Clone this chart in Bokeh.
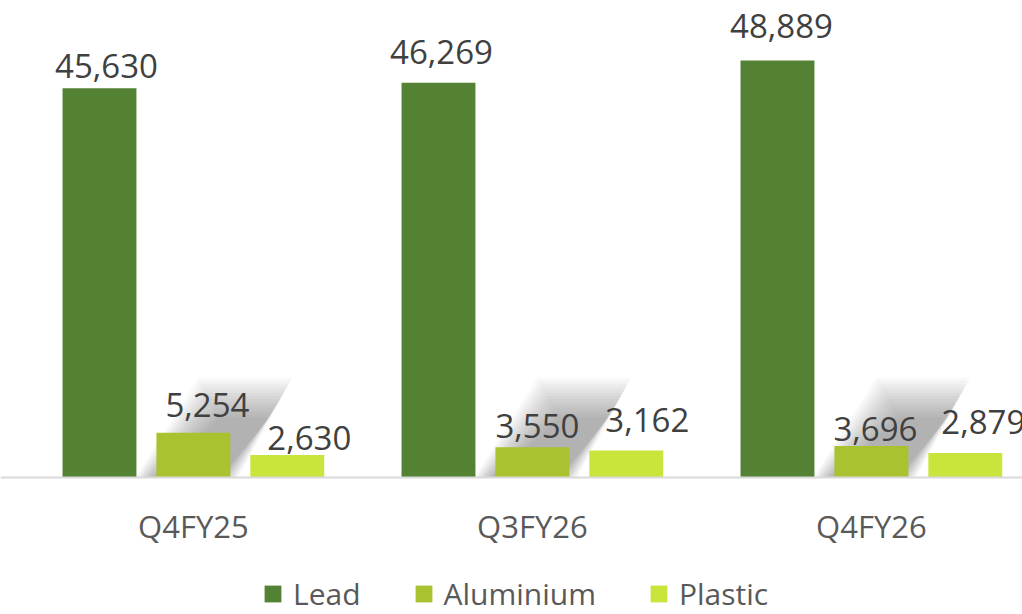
from bokeh.plotting import figure
from bokeh.models import Range1d, ColumnDataSource, Legend, LegendItem, Span
from bokeh.core.properties import value
from bokeh.embed import file_html
from bokeh.resources import INLINE

categories = ["Q4FY25", "Q3FY26", "Q4FY26"]
series_names = ["Lead", "Aluminium", "Plastic"]
lead = [45630, 46269, 48889]
aluminium = [5254, 3550, 3696]
plastic = [2630, 3162, 2879]
colors = ["#548235", "#A9C22F", "#C9E43A"]

# hand-placed data-label nudges of the original (pixels: right, gap above bar)
label_dx = [[7, 3, 4], [14, 5, 4], [22, 21, 18]]
label_gap = [[10, 19, 22], [16, 9, 5], [5, 19, 19]]

FONT = "Open Sans"
W, H = 1022, 614
BASE_PX = 477          # pixel row of the zero line
PX_PER_UNIT = 0.00853
PX_PER_CAT = 339.0
y_max = BASE_PX / PX_PER_UNIT
y_min = -(H - BASE_PX) / PX_PER_UNIT

p = figure(width=W, height=H, output_backend="svg", toolbar_location=None,
           x_range=Range1d(-0.569, -0.569 + W / PX_PER_CAT),
           y_range=Range1d(y_min, y_max),
           x_axis_location=None, y_axis_location=None,
           min_border=0)
p.outline_line_color = None
p.xgrid.visible = False
p.ygrid.visible = False
p.background_fill_color = "white"
p.border_fill_color = "white"

offsets = [-0.277, 0.0, 0.277]
width = 0.218

# soft perspective shadow behind the Aluminium bars (Excel shape effect)
def px_x(n):
    return n / PX_PER_CAT

def px_y(n):
    return n / PX_PER_UNIT

sh_xs, sh_ys = [], []
for i, v in enumerate(aluminium):
    c = i + offsets[1]
    left, right = c - width / 2, c + width / 2
    for k in range(14):
        d = k * 1.4
        bl = left - px_x(21 - d)
        br = right + px_x(8 - d)
        top = px_y(100 - 2.2 * d)
        tl = left + px_x(42 + 1.2 * d)
        tr = right + px_x(62 - 1.2 * d)
        sh_xs.append([bl, br, tr, tl])
        sh_ys.append([0, 0, top, top])
p.patches(xs=sh_xs, ys=sh_ys, fill_color="#000000", fill_alpha=0.022, line_color=None)

renderers = []
for s, (vals, off, col) in enumerate(zip([lead, aluminium, plastic], offsets, colors)):
    xs = [i + off for i in range(len(categories))]
    src = ColumnDataSource(dict(x=xs, top=vals,
                                label=[f"{v:,}" for v in vals],
                                dx=label_dx[s],
                                dy=[-(g + 12) for g in label_gap[s]]))
    r = p.vbar(x="x", top="top", width=width, bottom=0, source=src,
               fill_color=col, line_color=None)
    renderers.append(r)
    p.text(x="x", y="top", text="label", source=src, text_align="center",
           text_baseline="alphabetic", x_offset="dx", y_offset="dy",
           text_font=value(FONT), text_font_size="33px", text_color="#404040")

# zero / category axis line
p.add_layout(Span(location=0, dimension="width", line_color="#D9D9D9", line_width=2))

# category labels
cat_src = ColumnDataSource(dict(x=list(range(len(categories))), y=[0] * len(categories),
                                text=categories))
p.text(x="x", y="y", text="text", source=cat_src, text_align="center",
       text_baseline="alphabetic", y_offset=48,
       text_font=value(FONT), text_font_size="31px", text_color="#595959")

legend = Legend(items=[LegendItem(label=n, renderers=[r]) for n, r in zip(series_names, renderers)],
                orientation="horizontal", location=(262, 0),
                label_text_font=FONT, label_text_font_size="30px",
                label_text_color="#595959",
                glyph_width=21, glyph_height=21, spacing=52,
                border_line_color=None, background_fill_alpha=0,
                padding=0, margin=0, label_standoff=10)
p.add_layout(legend, "center")

open("out.html", "w").write(file_html(p, INLINE))
